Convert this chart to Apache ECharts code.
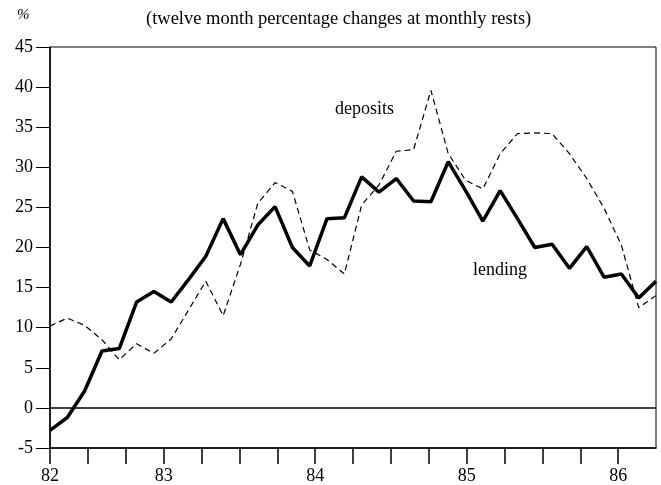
<!DOCTYPE html>
<html>
<head>
<meta charset="utf-8">
<script src="https://cdn.jsdelivr.net/npm/echarts@6/dist/echarts.min.js"></script>
<style>
  html, body { margin: 0; padding: 0; background: #fff; }
  #main { width: 661px; height: 485px; }
</style>
</head>
<body>
<div id="main"></div>
<script>
// monthly observations, twelve month % change
var periods = []
for (var i = 0; i < 36; i++) periods.push('m' + i)

var lending = [-2.8, -1.2, 2.1, 7.1, 7.4, 13.2, 14.5, 13.2, 16.0, 18.9,
  23.6, 19.1, 22.8, 25.1, 20.0, 17.7, 23.6, 23.7, 28.8, 26.9,
  28.6, 25.8, 25.7, 30.7, 27.1, 23.3, 27.1, 23.6, 20.0, 20.4,
  17.4, 20.1, 16.3, 16.7, 13.7, 15.8]

var deposits = [10.2, 11.2, 10.3, 8.5, 6.0, 8.0, 6.8, 8.6, 12.2, 15.8,
  11.5, 17.9, 25.5, 28.1, 27.0, 19.7, 18.5, 16.7, 25.3, 27.8,
  32.0, 32.2, 39.6, 31.7, 28.4, 27.3, 31.7, 34.2, 34.3, 34.2,
  31.7, 28.6, 24.9, 20.3, 12.5, 14.0]

// year labels sit on quarterly ticks (axis in months)
var tickMonths = [0, 9, 21, 33, 45]
var tickLabels = ['82', '83', '84', '85', '86']

var serif = 'Liberation Serif'

var myChart = echarts.init(document.getElementById('main'))
var option = {
  animation: false,
  backgroundColor: '#fff',
  grid: {
    left: 50, right: 5, top: 47, bottom: 33,
    show: true, borderColor: '#000', borderWidth: 1
  },
  xAxis: [
    {
      type: 'value',
      min: 0, max: 48, interval: 3,
      axisLine: { show: true, onZero: false, lineStyle: { color: '#000', width: 1.5 } },
      axisTick: { show: true, length: 16, lineStyle: { color: '#000', width: 1.5 } },
      axisLabel: {
        color: '#000', fontFamily: serif, fontSize: 18, margin: 19,
        showMaxLabel: false,
        formatter: function (v) {
          var k = tickMonths.indexOf(v)
          return k >= 0 ? tickLabels[k] : ''
        }
      },
      splitLine: { show: false }
    },
    {
      type: 'category',
      data: periods,
      boundaryGap: false,
      show: false
    }
  ],
  yAxis: {
    type: 'value',
    min: -5, max: 45, interval: 5,
    axisLine: { show: true, onZero: false, lineStyle: { color: '#000', width: 1.5 } },
    axisTick: { show: true, length: 14, lineStyle: { color: '#000' } },
    axisLabel: { color: '#000', fontFamily: serif, fontSize: 18, margin: 17 },
    splitLine: { show: false }
  },
  series: [
    {
      name: 'deposits',
      type: 'line',
      xAxisIndex: 1,
      data: deposits,
      symbol: 'none',
      lineStyle: { color: '#000', width: 1.2, type: [6, 4] },
      z: 2
    },
    {
      name: 'lending',
      type: 'line',
      xAxisIndex: 1,
      data: lending,
      symbol: 'none',
      lineStyle: { color: '#000', width: 3.5 },
      z: 3,
      markLine: {
        silent: true,
        symbol: 'none',
        label: { show: false },
        lineStyle: { color: '#000', width: 1.5, type: 'solid' },
        data: [{ yAxis: 0 }]
      }
    }
  ],
  graphic: [
    {
      type: 'text', left: 17, top: 8,
      style: { text: '%', font: 'italic 15px "Liberation Serif"', fill: '#000' }
    },
    {
      type: 'text', left: 146, top: 10,
      style: { text: '(twelve month percentage changes at monthly rests)', font: '18.5px "Liberation Serif"', fill: '#000' }
    },
    {
      type: 'text', left: 335, top: 100,
      style: { text: 'deposits', font: '18px "Liberation Serif"', fill: '#000' }
    },
    {
      type: 'text', left: 473, top: 261,
      style: { text: 'lending', font: '18px "Liberation Serif"', fill: '#000' }
    }
  ]
}
myChart.setOption(option)
</script>
</body>
</html>
